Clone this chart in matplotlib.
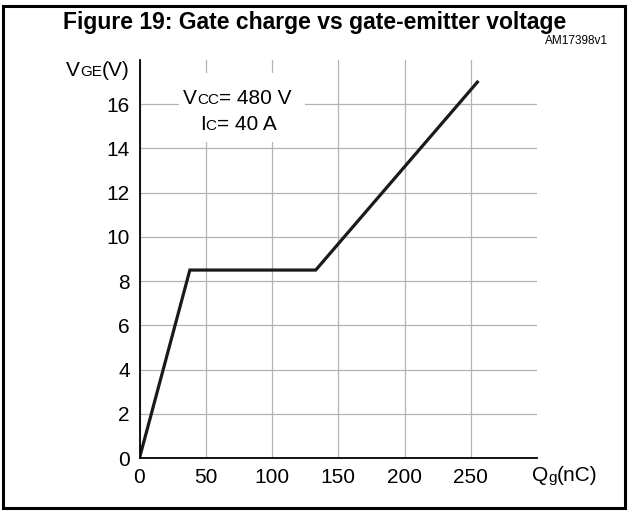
import matplotlib
matplotlib.use('Agg')
import matplotlib.pyplot as plt
from matplotlib.patches import Rectangle

plt.rcParams['font.family'] = ['Liberation Sans', 'DejaVu Sans']

# gate charge curve (nC, V)
qg = [0, 38, 133, 255]
vge = [0, 8.5, 8.5, 17]

x_ticks = [0, 50, 100, 150, 200, 250]
y_ticks = [0, 2, 4, 6, 8, 10, 12, 14, 16]

W, H = 629, 512


def mixed_text(fig, x, y, parts):
    # draw text pieces one after another, x/y in pixels from top-left (baseline)
    renderer = fig.canvas.get_renderer()
    cx = x
    for s, size, dy in parts:
        t = fig.text(cx / W, 1 - (y + dy) / H, s, fontsize=size, va='baseline', ha='left', zorder=5)
        cx += t.get_window_extent(renderer).width


def plot_gate_charge():
    fig = plt.figure(figsize=(W / 100, H / 100), dpi=100)
    ax = fig.add_axes([139.5 / W, 1 - 458 / H, (537 - 139.5) / W, (458 - 60) / H])

    ax.plot(qg, vge, color='#1a1a1a', linewidth=2.3, solid_joinstyle='miter')

    ax.set_xlim(0, 300)
    ax.set_ylim(0, 18)
    ax.set_xticks(x_ticks)
    ax.set_yticks(y_ticks)
    ax.tick_params(length=0, labelsize=15, pad=7)
    ax.grid(True, color='#b4b4b4', linewidth=0.9)
    ax.set_axisbelow(True)
    for side in ['top', 'right']:
        ax.spines[side].set_visible(False)
    for side in ['left', 'bottom']:
        ax.spines[side].set_linewidth(1.3)

    # white box behind the conditions text
    ax.add_patch(Rectangle((30, 14.3), 95, 3.1, facecolor='white', edgecolor='none', zorder=2))
    mixed_text(fig, 183, 104, [('V', 15, 0), ('CC', 11, 0), ('= 480 V', 15, 0)])
    mixed_text(fig, 200, 130, [('I', 15, 0), ('C', 11, 0), ('= 40 A', 15, 0)])

    # axis labels
    mixed_text(fig, 66, 76, [('V', 15, 0), ('GE', 11, 0), ('(V)', 15, 0)])
    mixed_text(fig, 532, 481, [('Q', 15, 0), ('g', 11, 1), ('(nC)', 15, 0)])

    # title and reference code
    fig.text(315 / W, 1 - 29 / H, 'Figure 19: Gate charge vs gate-emitter voltage',
             fontsize=16.5, fontweight='bold', ha='center', va='baseline')
    fig.text(608 / W, 1 - 44 / H, 'AM17398v1', fontsize=8.5, ha='right', va='baseline')

    # outer frame
    fig.patches.append(Rectangle((3 / W, 4 / H), 622 / W, 502 / H, transform=fig.transFigure,
                                 fill=False, edgecolor='black', linewidth=2.2))

    fig.savefig('out.png', dpi=100)


if __name__ == '__main__':
    plot_gate_charge()
